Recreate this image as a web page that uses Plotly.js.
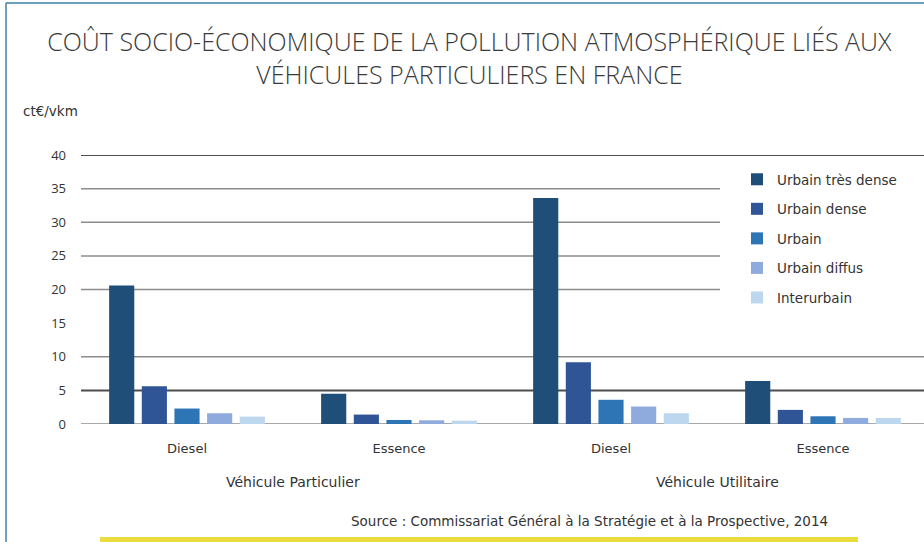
<!DOCTYPE html>
<html>
<head>
<meta charset="utf-8">
<script src="https://cdn.plot.ly/plotly-3.0.1.min.js"></script>
<style>html,body{margin:0;padding:0;background:#fff;}#chart{width:924px;height:542px;}</style>
</head>
<body>
<div id="chart"></div>
<script>
// ---- data ----
const vehicleTypes = ["Véhicule Particulier", "Véhicule Particulier", "Véhicule Utilitaire", "Véhicule Utilitaire"];
const fuels = ["Diesel", "Essence", "Diesel", "Essence"];
const seriesNames = ["Urbain très dense", "Urbain dense", "Urbain", "Urbain diffus", "Interurbain"];
const urbainTresDense = [20.6, 4.5, 33.6, 6.4];
const urbainDense = [5.6, 1.4, 9.2, 2.1];
const urbain = [2.3, 0.6, 3.6, 1.15];
const urbainDiffus = [1.6, 0.55, 2.6, 0.9];
const interurbain = [1.1, 0.5, 1.6, 0.9];
const yTicks = [0, 5, 10, 15, 20, 25, 30, 35, 40];
const gridFull = [0, 5, 10, 40];
const gridShort = [20, 25, 30, 35];

// ---- styles ----
const colors = ["#1f4e79", "#2f5597", "#2e75b6", "#8faadc", "#bdd7ee"];
const W = 924, H = 542;
const M = {l: 81, r: 0, t: 155, b: 118};
const PW = W - M.l - M.r, PH = H - M.t - M.b;
const px = x => (x - M.l) / PW;
const py = y => (H - M.b - y) / PH;
const font = "Open Sans, Liberation Sans, sans-serif";
const wide = "DejaVu Sans, Open Sans, sans-serif";

const idx = fuels.map((_, i) => i);
const allSeries = [urbainTresDense, urbainDense, urbain, urbainDiffus, interurbain];
const traces = allSeries.map((vals, i) => ({
  type: "bar",
  name: seriesNames[i],
  x: idx,
  y: vals,
  customdata: vehicleTypes,
  marker: {color: colors[i], line: {width: 0}},
  legendgroup: "g" + i
}));

// group labels centred under their categories
const groups = [...new Set(vehicleTypes)];
const groupAnn = groups.map(g => {
  const ii = idx.filter(i => vehicleTypes[i] === g);
  return {text: g, xref: "x", yref: "paper", x: ii.reduce((a, b) => a + b, 0) / ii.length, y: py(482),
    xanchor: "center", yanchor: "middle", showarrow: false, font: {family: wide, size: 14, color: "#333"}};
});

const shapes = [];
gridFull.forEach(v => shapes.push({type: "line", layer: "below", xref: "paper", yref: "y", x0: 0, x1: 1, y0: v, y1: v,
  line: {color: (v === 40 || v === 5) ? "#4d4d4d" : "#8c8c8c", width: (v === 40 || v === 5) ? 2 : 1.5}}));
gridShort.forEach(v => shapes.push({type: "line", layer: "below", xref: "paper", yref: "y", x0: 0, x1: px(720), y0: v, y1: v,
  line: {color: "#8c8c8c", width: 1.5}}));
// frame
shapes.push({type: "line", xref: "paper", yref: "paper", x0: px(6), x1: px(6), y0: py(3), y1: py(542), line: {color: "#3f7fa8", width: 1.5}});
shapes.push({type: "line", xref: "paper", yref: "paper", x0: px(6), x1: px(924), y0: py(3), y1: py(3), line: {color: "#3f7fa8", width: 1.5}});
// yellow bar at bottom
shapes.push({type: "rect", xref: "paper", yref: "paper", x0: px(100), x1: px(858), y0: py(542), y1: py(537), fillcolor: "#e9dc3c", line: {width: 0}});

const layout = {
  width: W, height: H,
  margin: M,
  paper_bgcolor: "#fff", plot_bgcolor: "rgba(0,0,0,0)",
  font: {family: font, color: "#333"},
  title: {
    text: "COÛT SOCIO-ÉCONOMIQUE DE LA POLLUTION ATMOSPHÉRIQUE LIÉS AUX<br>VÉHICULES PARTICULIERS EN FRANCE",
    font: {family: font, size: 25, color: "#3a3a3a", weight: 300},
    x: 0.508, xanchor: "center", xref: "container",
    y: 1 - 51 / H, yanchor: "top", yref: "container"
  },
  barmode: "group",
  bargap: 0.23,
  bargroupgap: 0.23,
  showlegend: true,
  legend: {
    x: px(737), xanchor: "left", y: py(164), yanchor: "top",
    font: {family: wide, size: 13.5, color: "#333"},
    bgcolor: "rgba(0,0,0,0)", tracegroupgap: 9, traceorder: "grouped"
  },
  xaxis: {
    type: "linear",
    range: [-0.5, 3.5 - 5 / 212],
    tickvals: idx, ticktext: fuels,
    showgrid: false, zeroline: false, showline: false, ticks: "",
    tickfont: {family: wide, size: 13, color: "#333"},
    ticklabelstandoff: 15,
    fixedrange: true
  },
  yaxis: {
    range: [0, 40],
    tickvals: yTicks,
    showgrid: false, zeroline: false, showline: false, ticks: "",
    tickfont: {family: font, size: 13, color: "#333"},
    ticklabelstandoff: 14,
    fixedrange: true
  },
  shapes: shapes,
  annotations: groupAnn.concat([
    {text: "ct€/vkm", xref: "paper", yref: "paper", x: px(21), y: py(111), xanchor: "left", yanchor: "middle",
      showarrow: false, font: {family: wide, size: 13.5, color: "#333"}},
    {text: "Source : Commissariat Général à la Stratégie et à la Prospective, 2014", xref: "paper", yref: "paper",
      x: px(589), y: py(521), xanchor: "center", yanchor: "middle", showarrow: false,
      font: {family: wide, size: 13.5, color: "#333"}}
  ])
};

Plotly.newPlot("chart", traces, layout, {displayModeBar: false, staticPlot: true});
</script>
</body>
</html>
